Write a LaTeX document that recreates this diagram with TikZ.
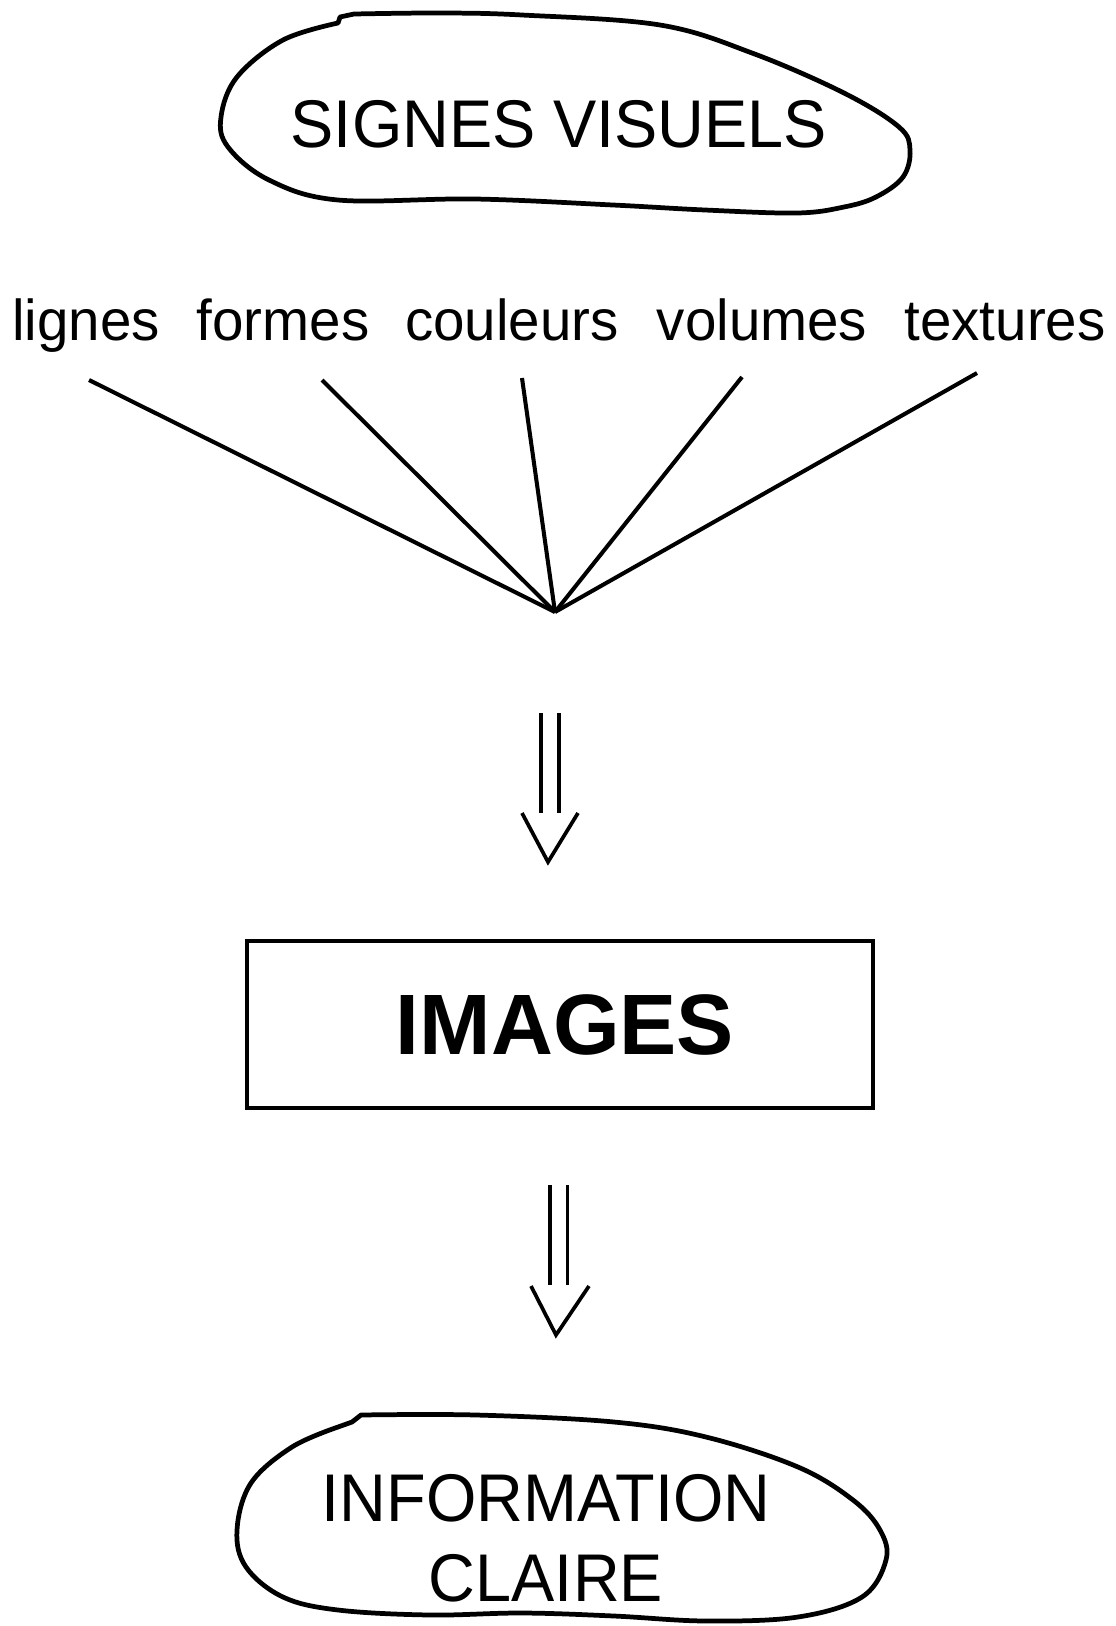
\documentclass[tikz,border=0pt]{standalone}
\usepackage{fontspec}
\setmainfont{Liberation Sans}[FakeStretch=0.96]
\newfontfamily\widesans{Liberation Sans}
\newfontfamily\wordsans{Liberation Sans}[FakeStretch=0.98]
\usepackage{tikz}
\usetikzlibrary{positioning}
\tikzset{
    semithick,
    blob/.style = {line width=1.35pt, line join=round},
    title/.style = {inner sep=0pt, font=\fontsize{19.2}{22.8}\selectfont},
    word/.style = {anchor=base, inner sep=0pt, font=\wordsans\fontsize{16.4}{19}\selectfont},
    frame/.style = {rectangle, draw, line width=1.1pt, inner sep=0pt,
                    minimum width=62.6mm, minimum height=16.7mm,
                    font=\widesans\bfseries\fontsize{24.4}{29}\selectfont},
    ray/.style = {line width=1.15pt},
    shaft/.style = {double, double distance=1.4mm, line width=1.05pt},
    head/.style = {line width=1.05pt, line join=miter}
    }

\begin{document}
\begin{tikzpicture}[
      x = 0.1mm, % one pixel of the layout
      y = -0.1mm, % rows go down the page
      line cap = butt
    ]
    \useasboundingbox (0,0) rectangle (1116,1626);

    % top cloud
    \node[title, anchor=base] (signes) at (559,147) {SIGNES VISUELS};
    \draw[blob] plot[smooth, tension=0.6] coordinates {(354,14) (440,13) (522,15)
        (660,25) (752,53) (844,93) (899,127) (910,150) (903,177) (876,197)
        (844,207) (797,213) (705,210) (613,205) (475,199) (338,200) (269,180)
        (228,147) (221,117) (237,77) (283,40) (338,23)} -- (340,17) -- cycle;

    % the five signs
    \node[word] (lignes) at (86,340) {lignes};
    \node[word] (formes) at (283,340) {formes};
    \node[word] (couleurs) at (512,340) {couleurs};
    \node[word] (volumes) at (762,340) {volumes};
    \node[word] (textures) at (1005,340) {textures};

    \coordinate (r-lignes) at (89,380);
    \coordinate (r-formes) at (322,380);
    \coordinate (r-couleurs) at (522,378);
    \coordinate (r-volumes) at (742,377);
    \coordinate (r-textures) at (977,373);
    \coordinate (apex) at (555,612);

    \foreach \w in {lignes,formes,couleurs,volumes,textures}
        \draw[ray] (r-\w) -- (apex);

    % first arrow
    \coordinate (a1) at (550,713);
    \coordinate (b1) at (550,813);
    \draw[shaft] (a1) -- (b1);
    \draw[head] (522,813) -- (548,862) -- (578,813);

    % box
    \node[frame] (images) at (560,1024.5) {\hspace{1mm}IMAGES};

    % second arrow
    \coordinate (a2) at (558.5,1185);
    \coordinate (b2) at (558.5,1285);
    \draw[shaft] (a2) -- (b2);
    \draw[head] (531,1286) -- (556,1335) -- (589,1286);

    % bottom cloud
    \node[title, align=center] (info) at (546,1538) {INFORMATION\\CLAIRE};
    \draw[blob] plot[smooth, tension=0.6] coordinates {(361,1415) (476,1415)
        (614,1422) (706,1437) (798,1467) (853,1500) (880,1530) (886,1560)
        (862,1597) (798,1617) (706,1621) (614,1616) (522,1613) (430,1615)
        (338,1610) (283,1597) (246,1567) (237,1530) (251,1483) (292,1447)
        (338,1427)} -- (352,1422) -- cycle;

\end{tikzpicture}
\end{document}
